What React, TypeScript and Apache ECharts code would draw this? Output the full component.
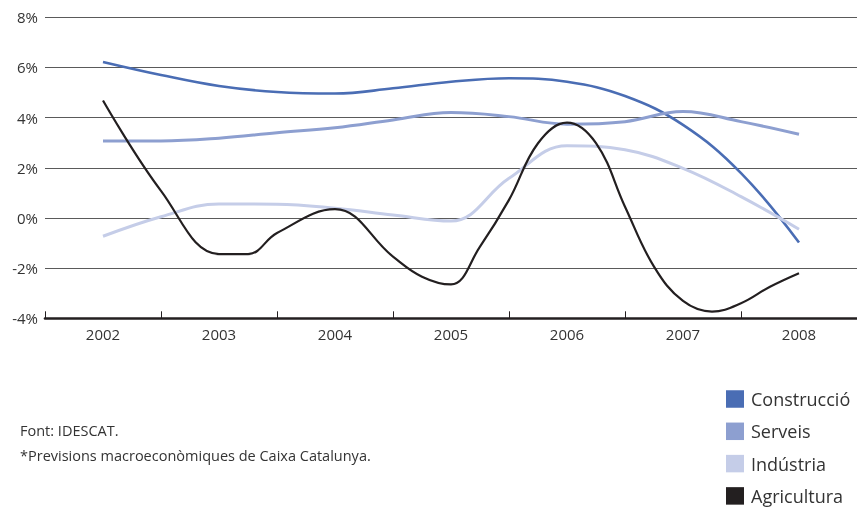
import React, { useEffect, useRef } from "react";
import * as echarts from "echarts";

const years = ["2002", "2003", "2004", "2005", "2006", "2007", "2008"];
const halfYears = [2002, 2002.5, 2003, 2003.5, 2004, 2004.5, 2005, 2005.5, 2006, 2006.5, 2007, 2007.5, 2008];
const construccio = [6.22, 5.7, 5.26, 5.02, 4.96, 5.17, 5.43, 5.57, 5.43, 4.86, 3.71, 1.79, -0.98];
const serveis = [3.07, 3.07, 3.18, 3.4, 3.6, 3.91, 4.2, 4.04, 3.74, 3.84, 4.24, 3.84, 3.34];
const industria = [-0.73, 0.05, 0.56, 0.55, 0.39, 0.12, -0.12, 1.58, 2.88, 2.72, 1.98, 0.85, -0.45];
const agriPeriods = [2002, 2002.5, 2003, 2003.25, 2003.5, 2004, 2004.5, 2004.75, 2005, 2005.25, 2005.5, 2005.75, 2006, 2006.25, 2006.5, 2006.75, 2007, 2007.25, 2007.5, 2007.75, 2008];
const agricultura = [4.68, 1.08, -1.44, -1.44, -0.6, 0.35, -1.54, -2.34, -2.65, -1.14, 0.72, 2.98, 3.8, 2.98, 0.45, -1.94, -3.31, -3.73, -3.4, -2.74, -2.2];
const seriesNames = ["Construcció", "Serveis", "Indústria", "Agricultura"];
const seriesColors = ["#4a6db4", "#8d9fd0", "#c5cde8", "#231f20"];
const notes = ["Font: IDESCAT.", "*Previsions macroeconòmiques de Caixa Catalunya."];

const FONT = "'Open Sans', sans-serif";

function pairs(xs: number[], ys: number[]) {
  return xs.map((x, i) => [x, ys[i]]);
}

export default function App() {
  const ref = useRef<HTMLDivElement>(null);
  useEffect(() => {
    if (!ref.current) return;
    const chart = echarts.init(ref.current, null, { renderer: "svg" });
    const values = [
      pairs(halfYears, construccio),
      pairs(halfYears, serveis),
      pairs(halfYears, industria),
      pairs(agriPeriods, agricultura),
    ];
    const widths = [2.6, 3, 3, 2.2];
    chart.setOption({
      animation: false,
      textStyle: { fontFamily: FONT },
      grid: { left: 45, right: -3, top: 17.3, bottom: 189.7, containLabel: false },
      xAxis: [
        {
          type: "category",
          data: years,
          boundaryGap: true,
          axisLine: { show: true, onZero: false, lineStyle: { color: "#231f20", width: 2.6 } },
          axisTick: { show: true, inside: true, length: 7, lineStyle: { color: "#231f20", width: 1 } },
          axisLabel: { color: "#333", fontSize: 15, margin: 8, fontFamily: FONT },
          splitLine: { show: false },
          z: 5,
        },
        {
          type: "value",
          min: 2001.5,
          max: 2008.5,
          show: false,
          axisLine: { onZero: false },
          splitLine: { show: false },
        },
      ],
      yAxis: {
        type: "value",
        min: -4,
        max: 8,
        interval: 2,
        axisLine: { show: false },
        axisTick: { show: false },
        axisLabel: { color: "#333", fontSize: 15, margin: 7, formatter: "{value}%", fontFamily: FONT },
        splitLine: { show: true, lineStyle: { color: "#5a5a5a", width: 1 } },
      },
      legend: {
        orient: "vertical",
        left: 726,
        top: 390,
        padding: 0,
        itemWidth: 18,
        itemHeight: 17.5,
        itemGap: 14.3,
        icon: "rect",
        textStyle: { color: "#333", fontSize: 18, fontFamily: FONT, padding: [0, 0, 0, 2] },
        data: seriesNames,
      },
      graphic: notes.map((t, i) => ({
        type: "text",
        left: 20,
        top: 423 + i * 25,
        style: { text: t, fill: "#333", fontSize: 14.5, fontFamily: FONT },
      })),
      series: seriesNames.map((name, i) => ({
        name,
        type: "line",
        xAxisIndex: 1,
        data: values[i],
        smooth: 0.4,
        showSymbol: false,
        symbol: "none",
        lineStyle: { color: seriesColors[i], width: widths[i] },
        itemStyle: { color: seriesColors[i] },
      })),
    });
    return () => chart.dispose();
  }, []);
  return (
    <div
      ref={ref}
      style={{ position: "fixed", left: 0, top: 0, width: 857, height: 508 }}
    />
  );
}
